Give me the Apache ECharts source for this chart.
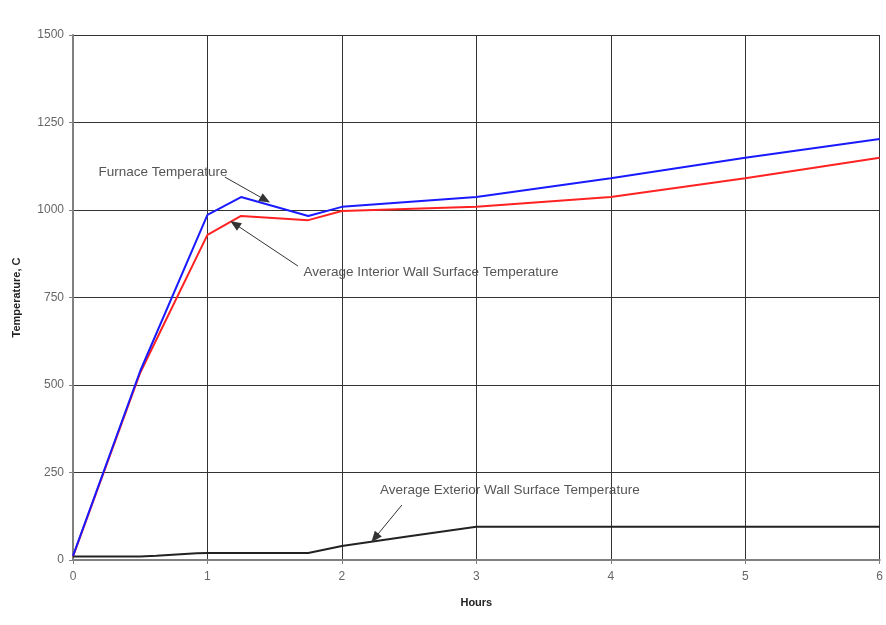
<!DOCTYPE html>
<html><head><meta charset="utf-8">
<script src="https://cdn.jsdelivr.net/npm/echarts@6/dist/echarts.min.js"></script>
<style>html,body{margin:0;padding:0;background:#fff}#c{width:886px;height:625px}</style>
</head><body><div id="c"></div>
<script>
var hours =      [0, 0.5, 1, 1.25, 1.75, 2, 3, 4, 5, 6];
var furnace =    [12, 540, 986, 1037, 983, 1009, 1037, 1091, 1149, 1203];
var interior =   [10, 535, 929, 983, 971, 997, 1009, 1037, 1091, 1149];
var extHours =   [0, 0.5, 0.62, 0.92, 1, 1.75, 2, 2.5, 3, 4, 5, 6];
var exterior =   [10, 10, 12, 19, 20, 20, 40, 68, 95, 95, 95, 95];
var xTicks = [0, 1, 2, 3, 4, 5, 6];
var yTicks = [0, 250, 500, 750, 1000, 1250, 1500];
var notes = [
  {text: 'Furnace Temperature', at: [0.186, 1109], from: [1.13, 1094], to: [1.43, 1029]},
  {text: 'Average Interior Wall Surface Temperature', at: [1.71, 823], from: [1.673, 840], to: [1.204, 960]},
  {text: 'Average Exterior Wall Surface Temperature', at: [2.28, 200], from: [2.446, 157], to: [2.245, 63]}
];
function pairs(xs, ys){ return xs.map(function(x,i){return [x, ys[i]];}); }
var chart = echarts.init(document.getElementById('c'));
var font = 'Arial, "Liberation Sans", sans-serif';
chart.setOption({
  animation: false,
  backgroundColor: '#fff',
  grid: {left: 73, right: 6, top: 35, bottom: 65},
  xAxis: {
    type: 'value', min: xTicks[0], max: xTicks[xTicks.length-1], interval: 1,
    name: 'Hours', nameLocation: 'middle', nameGap: 37,
    nameTextStyle: {fontFamily: font, fontWeight: 'bold', fontSize: 11, color: '#222'},
    axisLine: {lineStyle: {color: '#808080', width: 2}},
    axisTick: {show: true, length: 4, lineStyle: {color: '#808080'}},
    axisLabel: {fontFamily: font, fontSize: 12, color: '#666', margin: 11,
                formatter: function(v){ return String(v); }},
    splitLine: {show: true, lineStyle: {color: '#333', width: 1}}
  },
  yAxis: {
    type: 'value', min: yTicks[0], max: yTicks[yTicks.length-1], interval: 250,
    name: 'Temperature, C', nameLocation: 'middle', nameGap: 51, nameRotate: 90,
    nameTextStyle: {fontFamily: font, fontWeight: 'bold', fontSize: 11, color: '#222'},
    axisLine: {show: true, lineStyle: {color: '#808080', width: 2}},
    axisTick: {show: true, length: 4, lineStyle: {color: '#808080'}},
    axisLabel: {fontFamily: font, fontSize: 12, color: '#666', margin: 9,
                formatter: function(v){ return String(v); }},
    splitLine: {show: true, lineStyle: {color: '#333', width: 1}}
  },
  series: [
    {type: 'line', name: 'Furnace', data: pairs(hours, furnace), showSymbol: false, symbol: 'none',
     lineStyle: {color: '#1a1aff', width: 2}, z: 4},
    {type: 'line', name: 'Interior', data: pairs(hours, interior), showSymbol: false, symbol: 'none',
     lineStyle: {color: '#ff2222', width: 2}, z: 3},
    {type: 'line', name: 'Exterior', data: pairs(extHours, exterior), showSymbol: false, symbol: 'none',
     lineStyle: {color: '#222', width: 2}, z: 3,
     markLine: {
       silent: true, animation: false,
       symbol: ['none', 'triangle'], symbolSize: [9, 11],
       lineStyle: {color: '#333', width: 1, type: 'solid'},
       label: {show: false},
       data: notes.map(function(n){ return [{coord: n.from}, {coord: n.to}]; })
     },
     markPoint: {
       silent: true, animation: false,
       symbol: 'circle', symbolSize: 1, itemStyle: {color: 'rgba(0,0,0,0)'},
       label: {show: true, position: 'right', distance: 0, fontFamily: font, fontSize: 13.5, color: '#555',
               formatter: function(p){ return p.name; }},
       data: notes.map(function(n){ return {name: n.text, coord: n.at}; })
     }}
  ]
});
</script></body></html>
